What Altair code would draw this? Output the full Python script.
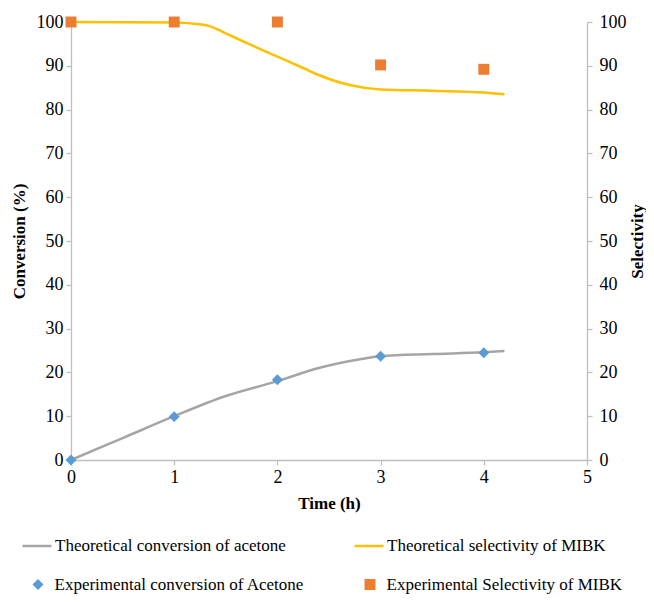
import altair as alt
import pandas as pd

# ---- data ----
t_conv_theory = [0, 0.5, 1, 1.5, 2, 2.4, 2.8, 3, 3.5, 4, 4.2]
conv_theory = [0, 5.0, 10.0, 14.6, 18.0, 21.0, 23.0, 23.7, 24.2, 24.6, 24.9]

t_sel_theory = [0, 1, 1.2, 1.35, 1.5, 1.75, 2, 2.25, 2.4, 2.7, 3, 3.5, 4, 4.2]
sel_theory = [100, 99.9, 99.6, 99.0, 97.4, 94.7, 92.1, 89.5, 87.9, 85.6, 84.6, 84.3, 83.9, 83.5]

t_exp = [0, 1, 2, 3, 4]
conv_exp = [0, 9.9, 18.3, 23.7, 24.5]
sel_exp = [100, 100, 100, 90.2, 89.2]

line_names = ["Theoretical conversion of acetone", "Theoretical selectivity of MIBK"]
line_colors = ["#a5a5a5", "#ffc000"]
point_names = ["Experimental conversion of Acetone", "Experimental Selectivity of MIBK"]
point_colors = ["#5b9bd5", "#ed7d31"]
point_shapes = ["diamond", "square"]

x_ticks = [0, 1, 2, 3, 4, 5]
y_ticks = list(range(0, 101, 10))

df_conv_line = pd.DataFrame({"t": t_conv_theory, "v": conv_theory, "s": line_names[0]})
df_sel_line = pd.DataFrame({"t": t_sel_theory, "v": sel_theory, "s": line_names[1]})
df_conv_pts = pd.DataFrame({"t": t_exp, "v": conv_exp, "s": point_names[0]})
df_sel_pts = pd.DataFrame({"t": t_exp, "v": sel_exp, "s": point_names[1]})

FONT = "Liberation Serif"

x_enc = alt.X("t:Q", scale=alt.Scale(domain=[0, 5], nice=False),
              axis=alt.Axis(values=x_ticks, title="Time (h)", labelPadding=3,
                            titlePadding=9, labelFlush=False))

stroke_enc = alt.Stroke("s:N", scale=alt.Scale(domain=line_names, range=line_colors),
                        legend=alt.Legend(title=None, orient="none", legendX=-50, legendY=508,
                                          direction="horizontal", columns=2, columnPadding=63,
                                          symbolSize=841, symbolStrokeWidth=2.5, labelOffset=2,
                                          symbolType="stroke", padding=0))

pt_legend = alt.Legend(title=None, orient="none", legendX=-41.5, legendY=554,
                       direction="horizontal", columns=2, columnPadding=57,
                       symbolSize=120, labelOffset=8, padding=0)
fill_enc = alt.Fill("s:N", scale=alt.Scale(domain=point_names, range=point_colors), legend=pt_legend)
shape_enc = alt.Shape("s:N", scale=alt.Scale(domain=point_names, range=point_shapes), legend=pt_legend)

y_left = alt.Y("v:Q", scale=alt.Scale(domain=[0, 100], nice=False),
               axis=alt.Axis(values=y_ticks, title="Conversion (%)", orient="left",
                             labelPadding=3, titlePadding=8))
y_right = alt.Y("v:Q", scale=alt.Scale(domain=[0, 100], nice=False),
                axis=alt.Axis(values=y_ticks, title="Selectivity", orient="right",
                              labelPadding=7, titlePadding=3, titleAngle=270,
                              titleBaseline="top"))

conv_line = alt.Chart(df_conv_line).mark_line(strokeWidth=2.5, interpolate="monotone").encode(
    x=x_enc, y=y_left, stroke=stroke_enc)
conv_pts = alt.Chart(df_conv_pts).mark_point(filled=True, size=120, opacity=1).encode(
    x=x_enc, y=y_left, fill=fill_enc, shape=shape_enc)

sel_line = alt.Chart(df_sel_line).mark_line(strokeWidth=2.5, interpolate="monotone").encode(
    x=x_enc, y=y_right, stroke=stroke_enc)
sel_pts = alt.Chart(df_sel_pts).mark_point(filled=True, size=120, opacity=1).encode(
    x=x_enc, y=y_right, fill=fill_enc, shape=shape_enc)

left = alt.layer(conv_line, conv_pts)
right = alt.layer(sel_line, sel_pts)

chart = alt.layer(left, right).resolve_scale(y="independent").properties(
    width=516, height=438,
    autosize=alt.AutoSizeParams(type="none"),
    padding={"left": 63, "top": 14, "right": 59, "bottom": 134},
).configure_view(stroke="transparent").configure_axis(
    grid=False, domainColor="#bfbfbf", tickColor="#bfbfbf", domainWidth=1.3, tickWidth=1.3,
    tickSize=5, labelFont=FONT, labelFontSize=18, labelColor="#000000",
    titleFont=FONT, titleFontSize=17, titleFontWeight="bold", titleColor="#000000",
).configure_legend(labelFont=FONT, labelFontSize=17, labelColor="#000000", labelLimit=400)

chart.save("out.html", embed_options={"renderer": "svg", "actions": False})
